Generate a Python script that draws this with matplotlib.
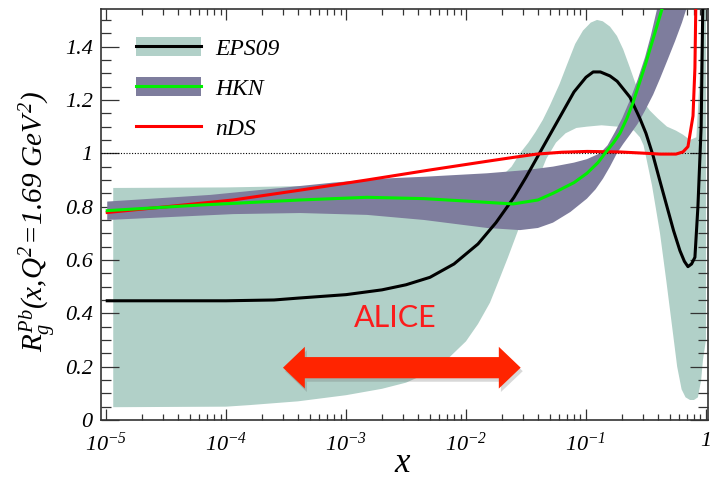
import numpy as np
import matplotlib
matplotlib.use("Agg")
import matplotlib.pyplot as plt
from matplotlib.patches import Patch, Polygon
from matplotlib.lines import Line2D
from matplotlib.legend_handler import HandlerTuple
from matplotlib.ticker import MultipleLocator, LogLocator, FuncFormatter, NullFormatter
import matplotlib.patheffects as pe

plt.rcParams['font.family'] = ['Liberation Serif', 'DejaVu Serif']
plt.rcParams['font.style'] = 'italic'
plt.rcParams['mathtext.fontset'] = 'custom'
plt.rcParams['mathtext.rm'] = 'Liberation Serif:italic'
plt.rcParams['mathtext.it'] = 'Liberation Serif:italic'
plt.rcParams['mathtext.bf'] = 'Liberation Serif:italic:bold'

# ---------------- data (log10 x, R) ----------------
eps_up_logx = [-4.94, -4.0, -3.0, -2.3, -1.8, -1.7, -1.62, -1.55, -1.48, -1.42, -1.36, -1.3,
               -1.22, -1.16, -1.09, -1.025, -0.96, -0.908, -0.86, -0.8, -0.742, -0.69,
               -0.633, -0.59, -0.55, -0.5, -0.467, -0.4, -0.325, -0.25, -0.192, -0.133,
               -0.08, -0.05, -0.03, 0.0]
eps_up_r = [0.87, 0.872, 0.88, 0.89, 0.90, 0.915, 0.95, 1.0, 1.04, 1.08, 1.125, 1.18,
            1.26, 1.33, 1.41, 1.46, 1.49, 1.50, 1.495, 1.475, 1.44, 1.39,
            1.32, 1.265, 1.22, 1.18, 1.16, 1.13, 1.10, 1.085, 1.07, 1.05,
            1.06, 1.3, 1.6, 1.6]
eps_lo_logx = [-4.94, -4.0, -3.8, -3.4, -3.0, -2.7, -2.5, -2.3, -2.15, -2.0, -1.9, -1.8,
               -1.72, -1.65, -1.575, -1.5, -1.42, -1.33, -1.25, -1.17, -1.08, -0.99,
               -0.87, -0.74, -0.65, -0.6, -0.55, -0.52, -0.494, -0.45, -0.42, -0.383,
               -0.33, -0.275, -0.24, -0.203, -0.17, -0.133, -0.1, -0.067, -0.04, -0.025, 0.0]
eps_lo_r = [0.048, 0.05, 0.056, 0.07, 0.093, 0.117, 0.14, 0.18, 0.23, 0.295, 0.36, 0.44,
            0.53, 0.61, 0.70, 0.79, 0.88, 0.98, 1.04, 1.075, 1.095, 1.1,
            1.105, 1.1, 1.095, 1.085, 1.06, 1.03, 0.975, 0.88, 0.80, 0.70,
            0.52, 0.325, 0.2, 0.115, 0.085, 0.075, 0.075, 0.085, 0.15, 0.225, 0.3]
eps_logx = [-4.99, -4.0, -3.6, -3.4, -3.0, -2.7, -2.5, -2.3, -2.1, -1.9, -1.75, -1.6,
            -1.5, -1.4, -1.3, -1.2, -1.1, -1.0, -0.94, -0.88, -0.8, -0.74, -0.633,
            -0.55, -0.5, -0.44, -0.38, -0.325, -0.27, -0.217, -0.18, -0.15, -0.12,
            -0.092, -0.067, -0.04, -0.025]
eps_r = [0.447, 0.447, 0.45, 0.457, 0.47, 0.488, 0.507, 0.535, 0.585, 0.66, 0.74, 0.835,
         0.91, 0.99, 1.07, 1.15, 1.23, 1.285, 1.305, 1.305, 1.29, 1.27, 1.21,
         1.13, 1.075, 0.99, 0.89, 0.80, 0.71, 0.635, 0.595, 0.575, 0.585,
         0.61, 0.80, 1.1, 1.6]

hkn_up_logx = [-4.99, -4.13, -3.5, -3.108, -2.7, -2.35, -1.825, -1.5, -1.275, -1.1, -0.992,
               -0.883, -0.82, -0.758, -0.7, -0.633, -0.57, -0.508, -0.46, -0.408, -0.35]
hkn_up_r = [0.819, 0.844, 0.872, 0.89, 0.905, 0.912, 0.925, 0.937, 0.95, 0.965, 0.978,
            1.0, 1.03, 1.08, 1.13, 1.2, 1.275, 1.36, 1.44, 1.54, 1.7]
hkn_lo_logx = [-4.99, -3.94, -3.38, -2.825, -2.35, -2.0, -1.825, -1.55, -1.4, -1.275, -1.13,
               -0.992, -0.92, -0.858, -0.8, -0.742, -0.69, -0.633, -0.57, -0.508, -0.44,
               -0.383, -0.32, -0.258, -0.2, -0.15, -0.1]
hkn_lo_r = [0.75, 0.772, 0.776, 0.769, 0.75, 0.73, 0.72, 0.712, 0.72, 0.74, 0.78,
            0.83, 0.865, 0.905, 0.95, 1.0, 1.035, 1.07, 1.11, 1.16, 1.22,
            1.28, 1.35, 1.42, 1.49, 1.56, 1.7]
hkn_logx = [-4.99, -4.217, -3.38, -2.825, -2.35, -1.967, -1.608, -1.4, -1.275, -1.1, -0.992,
            -0.9, -0.833, -0.77, -0.717, -0.66, -0.608, -0.55, -0.5, -0.467, -0.42,
            -0.367, -0.33]
hkn_r = [0.785, 0.806, 0.825, 0.835, 0.83, 0.82, 0.81, 0.825, 0.85, 0.89, 0.925,
         0.965, 1.005, 1.04, 1.075, 1.13, 1.19, 1.27, 1.34, 1.39, 1.46,
         1.54, 1.6]

nds_logx = [-4.99, -4.49, -3.94, -3.38, -2.825, -2.3, -1.825, -1.6, -1.41, -1.2, -0.99,
            -0.717, -0.5, -0.383, -0.25, -0.192, -0.15, -0.108, -0.092, -0.083]
nds_r = [0.778, 0.80, 0.825, 0.862, 0.90, 0.9375, 0.97, 0.985, 0.997, 1.004, 1.007,
         1.005, 1.0, 0.997, 0.997, 1.005, 1.025, 1.14, 1.32, 1.6]

labels = ['EPS09', 'HKN', 'nDS']

C_EPS_BAND = '#b1d0c8'
C_HKN_BAND = '#7e7d9d'
C_GREEN = '#00f000'
C_RED = '#ff0000'

def X(lx):
    return 10.0 ** np.asarray(lx)

fig = plt.figure(figsize=(7.1, 4.87), dpi=100)
ax = fig.add_axes([101 / 710, (487 - 420) / 487, 607 / 710, 411 / 487])
ax.set_xscale('log')
ax.set_xlim(10 ** -5.042, 10 ** 0.017)
ax.set_ylim(0, 1.541)

# bands
ax.fill(np.r_[X(eps_up_logx), X(eps_lo_logx)[::-1]],
        np.r_[eps_up_r, eps_lo_r[::-1]], color=C_EPS_BAND, lw=0, zorder=1)
ax.fill(np.r_[X(hkn_up_logx), X(hkn_lo_logx)[::-1]],
        np.r_[hkn_up_r, hkn_lo_r[::-1]], color=C_HKN_BAND, lw=0, zorder=2)

ax.axhline(1.0, color='black', lw=0.8, ls=(0, (1, 1.5)), zorder=3)

ax.plot(X(eps_logx), eps_r, color='black', lw=2.2, zorder=4, solid_joinstyle='round')
ax.plot(X(nds_logx), nds_r, color=C_RED, lw=2.2, zorder=5, solid_joinstyle='round')
ax.plot(X(hkn_logx), hkn_r, color=C_GREEN, lw=2.2, zorder=6, solid_joinstyle='round')

# legend
h_eps = (Patch(facecolor=C_EPS_BAND, edgecolor='none'), Line2D([], [], color='black', lw=2.2))
h_hkn = (Patch(facecolor=C_HKN_BAND, edgecolor='none'), Line2D([], [], color=C_GREEN, lw=2.2))
h_nds = Line2D([], [], color=C_RED, lw=2.2)
leg = ax.legend([h_eps, h_hkn, h_nds], labels,
                handler_map={tuple: HandlerTuple(ndivide=1, pad=0)},
                loc='upper left', bbox_to_anchor=(0.027, 0.978), frameon=False,
                fontsize=17, handlelength=2.75, handleheight=0.85,
                labelspacing=0.74, handletextpad=0.6, borderpad=0.3)

# axes styling
for s in ax.spines.values():
    s.set_linewidth(1.2)
    s.set_color('#333333')
ax.yaxis.set_major_locator(MultipleLocator(0.2))
ax.yaxis.set_minor_locator(MultipleLocator(0.05))
ax.yaxis.set_major_formatter(FuncFormatter(lambda v, p: '%g' % round(v, 2)))
ax.xaxis.set_major_locator(LogLocator(base=10, numticks=10))
ax.xaxis.set_minor_locator(LogLocator(base=10, subs=np.arange(2, 10), numticks=10))
ax.xaxis.set_minor_formatter(NullFormatter())
ax.xaxis.set_major_formatter(FuncFormatter(
    lambda v, p: '1' if abs(v - 1) < 1e-9 else r'$10^{%d}$' % int(round(np.log10(v)))))

ax.tick_params(which='both', direction='in', top=True, right=True, color='#333333', width=0.9)
ax.tick_params(axis='y', which='major', length=13, labelsize=16, pad=6)
ax.tick_params(axis='y', which='minor', length=7)
ax.tick_params(axis='x', which='major', length=8, labelsize=16, pad=9)
ax.tick_params(axis='x', which='minor', length=4)

ax.set_ylabel(r'$R_g^{Pb}(x{,}Q^2\!=\!1.69\ GeV^2)$', fontsize=21, va='center')
ax.yaxis.set_label_coords(-0.105, 0.484)
ax.set_xlabel(r'$x$', fontsize=25, va='center')
ax.xaxis.set_label_coords(0.4975, -0.105)

# ALICE annotation
ax.text(10 ** -2.59, 0.382, 'ALICE', color='#fb1c1c', fontsize=22, family='Lato',
        style='normal', ha='center', va='center', zorder=8)
L, R, cy = 0.2998, 0.6914, 0.1273
hs, hh, hl = 0.0258, 0.0508, 0.0360
verts = [(L, cy), (L + hl, cy + hh), (L + hl, cy + hs), (R - hl, cy + hs), (R - hl, cy + hh),
         (R, cy), (R - hl, cy - hh), (R - hl, cy - hs), (L + hl, cy - hs), (L + hl, cy - hh)]
arrow = Polygon(verts, closed=True, transform=ax.transAxes, facecolor='#ff2400',
                edgecolor='none', zorder=8)
arrow.set_path_effects([pe.SimplePatchShadow(offset=(1.5, -2.5), shadow_rgbFace='#666666', alpha=0.25),
                        pe.Normal()])
ax.add_patch(arrow)

fig.savefig('out.png', dpi=100)
